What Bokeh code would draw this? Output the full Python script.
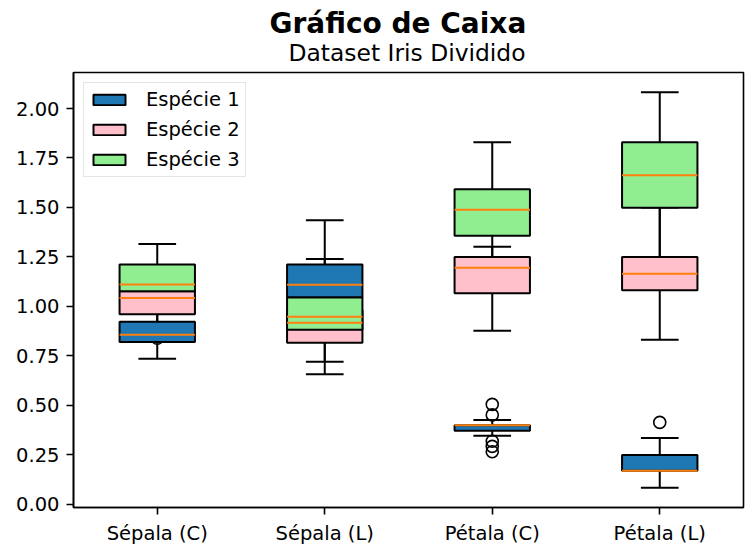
from bokeh.plotting import figure
from bokeh.models import (Range1d, FixedTicker, NumeralTickFormatter, Legend,
                          LegendItem, Title)
from bokeh.embed import file_html
from bokeh.resources import INLINE

# ---------------- data ----------------
categories = ["Sépala (C)", "Sépala (L)", "Pétala (C)", "Pétala (L)"]
positions = [1, 2, 3, 4]
species = ["Espécie 1", "Espécie 2", "Espécie 3"]
colors = ["#1f77b4", "pink", "lightgreen"]

# Espécie 1
s1_lo = [0.735, 0.949, 0.346, 0.084]
s1_q1 = [0.820, 1.045, 0.372, 0.170]
s1_med = [0.857, 1.109, 0.399, 0.170]
s1_q3 = [0.922, 1.212, 0.399, 0.249]
s1_hi = [0.993, 1.436, 0.426, 0.335]
s1_flier_x = [3, 3, 3, 3, 3, 4]
s1_flier_y = [0.266, 0.293, 0.319, 0.452, 0.505, 0.414]

# Espécie 2
s2_lo = [0.839, 0.657, 0.877, 0.831]
s2_q1 = [0.960, 0.816, 1.066, 1.082]
s2_med = [1.043, 0.917, 1.195, 1.165]
s2_q3 = [1.077, 0.980, 1.250, 1.250]
s2_hi = [1.198, 1.112, 1.301, 1.500]
s2_flier_x = []
s2_flier_y = []

# Espécie 3
s3_lo = [0.975, 0.720, 1.197, 1.168]
s3_q1 = [1.077, 0.882, 1.357, 1.498]
s3_med = [1.111, 0.948, 1.488, 1.663]
s3_q3 = [1.212, 1.045, 1.592, 1.830]
s3_hi = [1.316, 1.240, 1.830, 2.082]
s3_flier_x = [1]
s3_flier_y = [0.839]

y_ticks = [0.0, 0.25, 0.5, 0.75, 1.0, 1.25, 1.5, 1.75, 2.0]

stats = [
    (s1_lo, s1_q1, s1_med, s1_q3, s1_hi, s1_flier_x, s1_flier_y),
    (s2_lo, s2_q1, s2_med, s2_q3, s2_hi, s2_flier_x, s2_flier_y),
    (s3_lo, s3_q1, s3_med, s3_q3, s3_hi, s3_flier_x, s3_flier_y),
]

BOX_W = 0.45
CAP_W = BOX_W / 2
FONT = "DejaVu Sans"

p = figure(width=756, height=555, output_backend="svg", toolbar_location=None,
           x_range=Range1d(0.5, 4.5), y_range=Range1d(-0.016, 2.182),
           min_border_left=73, min_border_right=13, min_border_top=72,
           min_border_bottom=48)
p.xgrid.visible = False
p.ygrid.visible = False
p.outline_line_color = "black"
p.outline_line_width = 1.6
p.outline_line_alpha = 1.0
p.background_fill_color = "white"
p.border_fill_color = "white"

# whiskers, caps and fliers first (they sit behind all boxes)
for lo, q1, med, q3, hi, fx, fy in stats:
    p.segment(x0=positions, y0=q1, x1=positions, y1=lo, line_color="black", line_width=2)
    p.segment(x0=positions, y0=q3, x1=positions, y1=hi, line_color="black", line_width=2)
    p.segment(x0=[x - CAP_W / 2 for x in positions], y0=lo,
              x1=[x + CAP_W / 2 for x in positions], y1=lo, line_color="black", line_width=2)
    p.segment(x0=[x - CAP_W / 2 for x in positions], y0=hi,
              x1=[x + CAP_W / 2 for x in positions], y1=hi, line_color="black", line_width=2)
    if fx:
        p.scatter(x=fx, y=fy, marker="circle", size=12, fill_color=None,
                  line_color="black", line_width=1.6)

box_renderers = []
for (lo, q1, med, q3, hi, fx, fy), col in zip(stats, colors):
    r = p.vbar(x=positions, width=BOX_W, bottom=q1, top=q3, fill_color=col,
               line_color="black", line_width=2)
    box_renderers.append(r)

for lo, q1, med, q3, hi, fx, fy in stats:
    p.segment(x0=[x - BOX_W / 2 for x in positions], y0=med,
              x1=[x + BOX_W / 2 for x in positions], y1=med,
              line_color="#ff7f0e", line_width=2)

# axes
p.xaxis.ticker = FixedTicker(ticks=positions)
p.xaxis.major_label_overrides = {pos: lab for pos, lab in zip(positions, categories)}
p.yaxis.ticker = FixedTicker(ticks=y_ticks)
p.yaxis.formatter = NumeralTickFormatter(format="0.00")
for ax in (p.xaxis[0], p.yaxis[0]):
    ax.minor_tick_line_color = None
    ax.major_tick_in = 0
    ax.major_tick_out = 7
    ax.major_tick_line_width = 1.6
    ax.major_tick_line_color = "black"
    ax.axis_line_color = "black"
    ax.axis_line_width = 1.6
    ax.major_label_standoff = 7
    ax.major_label_text_font = FONT
    ax.major_label_text_font_size = "19.5px"
    ax.major_label_text_color = "black"

legend = Legend(items=[LegendItem(label=s, renderers=[r]) for s, r in zip(species, box_renderers)],
                location="top_left", margin=10, padding=5, spacing=7,
                glyph_width=40, glyph_height=13, label_standoff=17, label_height=22,
                label_text_font=FONT, label_text_font_size="19.5px",
                label_text_color="black",
                border_line_color="#cccccc", border_line_width=1.2,
                background_fill_color="white", background_fill_alpha=0.8)
p.add_layout(legend)

sub = Title(text="Dataset Iris Dividido", align="left", offset=215, standoff=12,
            text_font=FONT, text_font_size="23.4px", text_font_style="normal",
            text_color="black")
main = Title(text="Gráfico de Caixa", align="left", offset=196, standoff=-19,
             text_font=FONT, text_font_size="28px", text_font_style="bold",
             text_color="black")
spacer = Title(text=" ", text_font_size="1px", standoff=5)
p.add_layout(sub, "above")
p.add_layout(main, "above")
p.add_layout(spacer, "above")

open("out.html", "w").write(file_html(p, INLINE))
